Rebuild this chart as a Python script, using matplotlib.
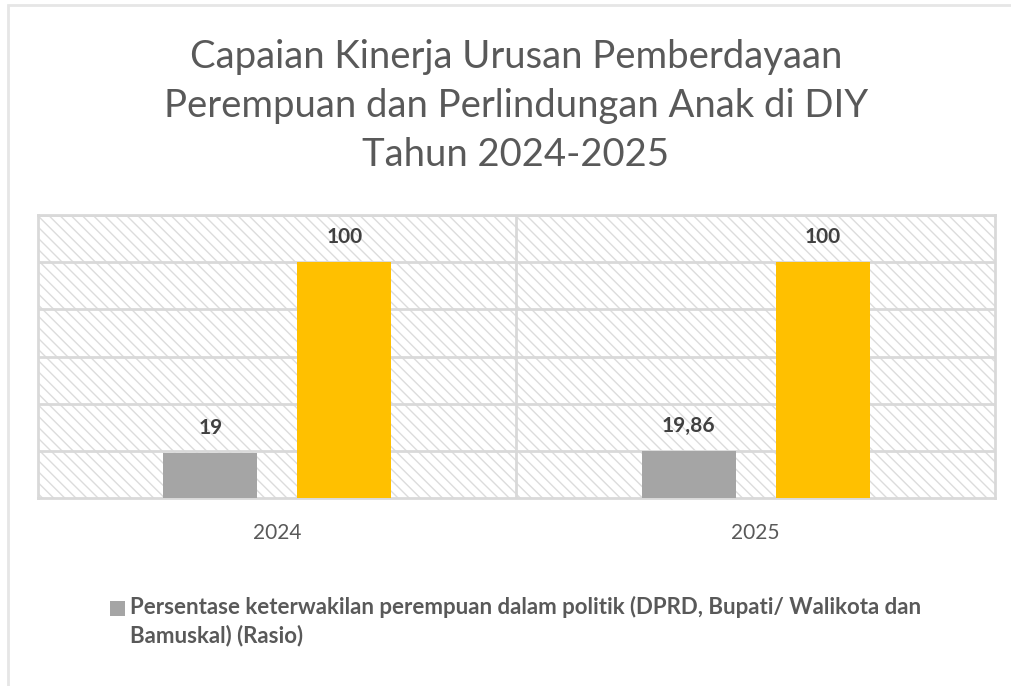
import numpy as np
import matplotlib
matplotlib.use("Agg")
import matplotlib.pyplot as plt
from matplotlib.patches import Rectangle

# data
years = ["2024", "2025"]
keterwakilan = [19, 19.86]
series2 = [100, 100]
label_keterwakilan = ["19", "19,86"]
label_series2 = ["100", "100"]
legend_text = ("Persentase keterwakilan perempuan dalam politik (DPRD, Bupati/ Walikota dan\n"
               "Bamuskal) (Rasio)")
title = "Capaian Kinerja Urusan Pemberdayaan\nPerempuan dan Perlindungan Anak di DIY\nTahun 2024-2025"

plt.rcParams['font.family'] = ['Lato', 'DejaVu Sans']
plt.rcParams['hatch.linewidth'] = 1.0

GRID = '#D9D9D9'
TEXT = '#595959'

fig = plt.figure(figsize=(10.12, 6.86), dpi=100)

# outer chart border (only left/top visible in the crop)
fig.patches.append(Rectangle((8 / 1012, -0.1), 1.2, 1 - 5 / 686 + 0.1, transform=fig.transFigure,
                             fill=False, edgecolor='#E6E6E6', linewidth=2))

ax = fig.add_axes([38 / 1012, 188 / 686, 957 / 1012, 283 / 686])
ax.set_xlim(-0.5, 1.5)
ax.set_ylim(0, 120)

# hatched plot area background
ax.add_patch(Rectangle((0, 0), 1, 1, transform=ax.transAxes, facecolor='white',
                       edgecolor='#DCDCDC', hatch='\\\\\\', linewidth=0, zorder=0))

ax.set_yticks(np.arange(20, 121, 20))
ax.yaxis.grid(True, color=GRID, linewidth=2, zorder=1)
ax.set_axisbelow(True)
ax.axvline(0.5, color=GRID, linewidth=2, zorder=1)
for s in ax.spines.values():
    s.set_color(GRID)
    s.set_linewidth(2)

x = np.arange(len(years))
w = 0.196
off = 0.14
b1 = ax.bar(x - off, keterwakilan, w, color='#A5A5A5', zorder=3)
b2 = ax.bar(x + off, series2, w, color='#FFC000', zorder=3)
ax.bar_label(b1, labels=label_keterwakilan, padding=11, fontsize=15, fontweight='bold', color='#404040')
ax.bar_label(b2, labels=label_series2, padding=11, fontsize=15, fontweight='bold', color='#404040')

ax.set_xticks(x)
ax.set_xticklabels(years, fontsize=15, color=TEXT)
ax.tick_params(axis='x', length=0, pad=18)
ax.tick_params(axis='y', length=0, labelleft=False)

fig.text(516 / 1012, 1 - 106 / 686, title, ha='center', va='center', fontsize=27.5,
         color=TEXT, linespacing=1.45)

# legend (only the first series is listed)
fig.patches.append(Rectangle((110 / 1012, 1 - 616 / 686), 15 / 1012, 15 / 686,
                             transform=fig.transFigure, facecolor='#A5A5A5', edgecolor='none'))
fig.text(130 / 1012, 1 - 596 / 686, legend_text, ha='left', va='top', fontsize=16,
         fontweight='bold', color=TEXT, linespacing=1.4)

fig.savefig('out.png', dpi=100)
